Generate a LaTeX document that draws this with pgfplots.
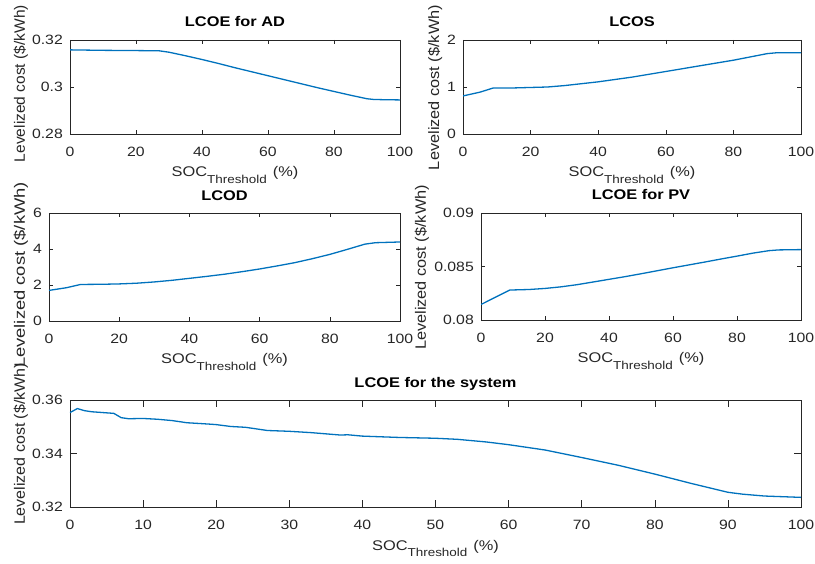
\documentclass[border=0pt]{standalone}
\usepackage{pgfplots}
\pgfplotsset{compat=1.18}
\usepackage{fontspec}
\setmainfont[FakeStretch=1.17]{Liberation Sans}
\newfontfamily\ylabfont{Liberation Sans}
\definecolor{mblue}{RGB}{0,114,189}
\definecolor{axgray}{RGB}{38,38,38}
\newcommand{\ylab}[1]{\scalebox{#1}[1]{Levelized cost (\$/kWh)}}
\pgfplotsset{
  mstyle/.style={
    scale only axis,
    axis line style={axgray, line width=0.6pt},
    every tick/.style={axgray, line width=0.6pt},
    tick align=inside,
    major tick length=4pt,
    xmin=0, xmax=100,
    scaled ticks=false,
    /pgf/number format/assume math mode=true,
    tick label style={font=\fontsize{13.5}{15}\selectfont, text=axgray},
    x tick label style={anchor=north, inner sep=0pt, yshift=-12.5pt},
    y tick label style={anchor=east, inner sep=0pt, xshift=-7pt},
    title style={at={(axis description cs:0.5,1)}, anchor=base, yshift=7pt, inner sep=0pt, font=\fontsize{14}{16}\selectfont\bfseries},
    xlabel style={at={(axis description cs:0.5,0)}, anchor=base, yshift=-43pt, inner sep=0pt, font=\fontsize{14}{16}\selectfont, text=axgray},
    ylabel style={anchor=base, inner sep=0pt, font=\ylabfont\fontsize{15}{17}\selectfont, text=axgray},
    xlabel={SOC\raisebox{-6.5pt}{\fontsize{11.5}{12}\selectfont Threshold}\hspace{6pt}(\%)},
    every axis plot post/.style={color=mblue, line width=1.3pt, mark=none},
  }
}
\begin{document}
\begin{tikzpicture}[x=1pt,y=1pt]
\useasboundingbox (0,0) rectangle (815,563);
% Plot 1
\begin{axis}[mstyle, at={(70pt,429pt)}, anchor=south west, width=330pt, height=94pt,
  ymin=0.28, ymax=0.32, ytick={0.28,0.3,0.32}, yticklabels={0.28,0.3,0.32},
  xtick={0,20,40,60,80,100}, xticklabels={0,20,40,60,80,100},
  title={LCOE for AD}, ylabel={\ylab{1.035}}, ylabel style={at={(axis description cs:-0.1364,0.537)}}]
\addplot coordinates {(0,0.3158)(10,0.3156)(20,0.3155)(27,0.3154)(30,0.3148)(35,0.3133)(40,0.3117)(45,0.3100)(50,0.3082)(55,0.3065)(60,0.3048)(65,0.3031)(70,0.3014)(75,0.2997)(80,0.2981)(85,0.2965)(90,0.2950)(92,0.2947)(95,0.2946)(100,0.2945)};
\end{axis}
% Plot 2
\begin{axis}[mstyle, at={(463pt,429pt)}, anchor=south west, width=338pt, height=94pt,
  ymin=0, ymax=2, ytick={0,1,2}, yticklabels={0,1,2},
  xtick={0,20,40,60,80,100}, xticklabels={0,20,40,60,80,100},
  title={LCOS}, ylabel={\ylab{1.088}}, ylabel style={at={(axis description cs:-0.071,0.495)}}]
\addplot coordinates {(0,0.81)(5,0.89)(9,0.98)(15,0.98)(20,0.99)(25,1.00)(30,1.03)(35,1.07)(40,1.11)(45,1.16)(50,1.21)(55,1.27)(60,1.33)(65,1.39)(70,1.45)(75,1.51)(80,1.57)(85,1.64)(90,1.71)(93,1.73)(100,1.73)};
\end{axis}
% Plot 3
\begin{axis}[mstyle, at={(49pt,242pt)}, anchor=south west, width=351pt, height=108pt,
  ymin=0, ymax=6, ytick={0,2,4,6}, yticklabels={0,2,4,6},
  xtick={0,20,40,60,80,100}, xticklabels={0,20,40,60,80,100},
  title={LCOD}, ylabel={\ylab{1.226}}, ylabel style={at={(axis description cs:-0.0684,0.426)}}]
\addplot coordinates {(0,1.70)(5,1.85)(9,2.03)(15,2.04)(20,2.06)(25,2.10)(30,2.17)(35,2.26)(40,2.37)(45,2.48)(50,2.60)(55,2.74)(60,2.89)(65,3.06)(70,3.24)(75,3.46)(80,3.70)(85,3.98)(90,4.27)(93,4.35)(100,4.39)};
\end{axis}
% Plot 4
\begin{axis}[mstyle, at={(481pt,243pt)}, anchor=south west, width=320pt, height=107pt,
  ymin=0.08, ymax=0.09, ytick={0.08,0.085,0.09}, yticklabels={0.08,0.085,0.09},
  xtick={0,20,40,60,80,100}, xticklabels={0,20,40,60,80,100},
  title={LCOE for PV}, ylabel={\ylab{1.088}}, ylabel style={at={(axis description cs:-0.172,0.491)}}]
\addplot coordinates {(0,0.08145)(5,0.0822)(9,0.0828)(15,0.08285)(20,0.08295)(25,0.0831)(30,0.0833)(35,0.08355)(40,0.0838)(45,0.08405)(50,0.08432)(55,0.0846)(60,0.08488)(65,0.08515)(70,0.08542)(75,0.0857)(80,0.08597)(85,0.08625)(90,0.08648)(93,0.08655)(100,0.08658)};
\end{axis}
% Plot 5
\begin{axis}[mstyle, at={(70pt,56pt)}, anchor=south west, width=731pt, height=107pt,
  major tick length=7pt,
  ymin=0.32, ymax=0.36, ytick={0.32,0.34,0.36}, yticklabels={0.32,0.34,0.36},
  xtick={0,10,20,30,40,50,60,70,80,90,100}, xticklabels={0,10,20,30,40,50,60,70,80,90,100},
  title={LCOE for the system}, ylabel={\ylab{1.068}}, ylabel style={at={(axis description cs:-0.0616,0.589)}}]
\addplot coordinates {(0,0.3553)(1,0.3568)(2,0.3560)(3,0.3556)(4,0.3554)(6,0.3550)(7,0.3534)(8,0.3530)(10,0.3531)(12,0.3528)(14,0.3523)(16,0.3515)(19,0.3510)(20,0.3508)(22,0.3501)(24,0.3498)(27,0.3486)(30,0.3483)(33,0.3478)(37,0.3469)(38,0.3470)(40,0.3465)(45,0.3460)(50,0.3457)(53,0.3453)(57,0.3443)(60,0.3433)(65,0.3413)(70,0.3385)(75,0.3356)(80,0.3323)(85,0.3288)(90,0.3255)(92,0.3248)(95,0.3241)(100,0.3236)};
\end{axis}
\end{tikzpicture}
\end{document}
